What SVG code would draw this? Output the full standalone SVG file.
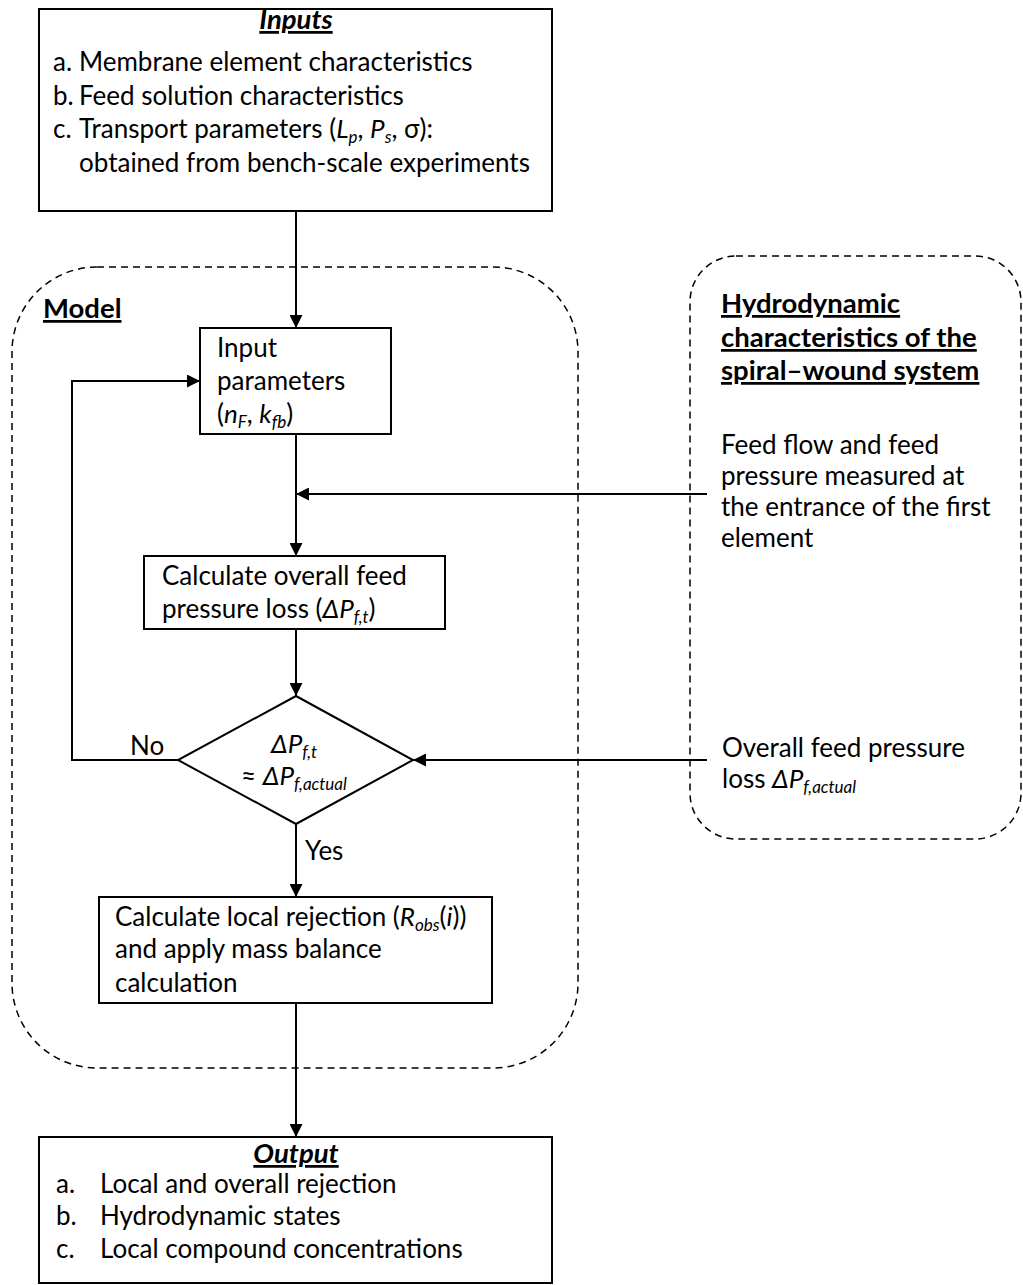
<svg xmlns="http://www.w3.org/2000/svg" width="1023" height="1285" viewBox="0 0 1023 1285">
<style>
text{font-family:Lato,"Liberation Sans",sans-serif;font-size:26px;fill:#000}
.b{font-weight:bold;font-size:27.5px}
.i{font-style:italic}
.u{text-decoration:underline}
.s{font-size:17px;font-style:italic}
.box{fill:#fff;stroke:#000;stroke-width:2}
.dash{fill:none;stroke:#000;stroke-width:1.5;stroke-dasharray:7 5}
.con{fill:none;stroke:#000;stroke-width:2}
</style>
<defs>
<marker id="ah" viewBox="0 0 13 13" refX="13" refY="6.5" markerWidth="13" markerHeight="13" markerUnits="userSpaceOnUse" orient="auto"><path d="M0,0 L13,6.5 L0,13 z" fill="#000"/></marker>
</defs>

<g id="model-group">
<rect class="dash" x="12" y="267" width="566" height="801" rx="85" ry="85"/>
<text class="b u" x="43" y="318">Model</text>
</g>

<g id="hydro-group">
<rect class="dash" x="690" y="256" width="331" height="583" rx="46" ry="46"/>
<text class="b u" x="721" y="313">Hydrodynamic</text>
<text class="b u" x="721" y="347">characteristics of the</text>
<text class="b u" x="721" y="380">spiral–wound system</text>
<text x="721" y="454">Feed flow and feed</text>
<text x="721" y="485">pressure measured at</text>
<text x="721" y="516">the entrance of the first</text>
<text x="721" y="547">element</text>
<text x="722" y="757">Overall feed pressure</text>
<text x="722" y="788">loss <tspan class="i">ΔP</tspan><tspan class="s" dy="5">f,actual</tspan></text>
</g>

<g id="connectors">
<path class="con" d="M296,211 V328" marker-end="url(#ah)"/>
<path class="con" d="M296,434 V556" marker-end="url(#ah)"/>
<path class="con" d="M707,494 H296" marker-end="url(#ah)"/>
<path class="con" d="M296,629 V696" marker-end="url(#ah)"/>
<path class="con" d="M707,760 H413" marker-end="url(#ah)"/>
<path class="con" d="M178,760 H72 V381 H200" marker-end="url(#ah)"/>
<path class="con" d="M296,824 V897" marker-end="url(#ah)"/>
<path class="con" d="M296,1003 V1137" marker-end="url(#ah)"/>
<text x="130" y="755">No</text>
<text x="305" y="860">Yes</text>
</g>

<g id="inputs">
<rect class="box" x="39" y="9" width="513" height="202"/>
<text class="b i u" x="296" y="29" text-anchor="middle">Inputs</text>
<text x="53" y="71">a.</text><text x="79" y="71">Membrane element characteristics</text>
<text x="53" y="105">b.</text><text x="79" y="105">Feed solution characteristics</text>
<text x="53" y="138">c.</text><text x="79" y="138">Transport parameters (<tspan class="i">L</tspan><tspan class="s" dy="5">p</tspan><tspan dy="-5">, </tspan><tspan class="i">P</tspan><tspan class="s" dy="5">s</tspan><tspan dy="-5">, σ):</tspan></text>
<text x="79" y="172">obtained from bench-scale experiments</text>
</g>

<g id="input-parameters">
<rect class="box" x="200" y="328" width="191" height="106"/>
<text x="217" y="357">Input</text>
<text x="217" y="390">parameters</text>
<text x="217" y="423">(<tspan class="i">n</tspan><tspan class="s" dy="5">F</tspan><tspan dy="-5">, </tspan><tspan class="i">k</tspan><tspan class="s" dy="5">fb</tspan><tspan dy="-5">)</tspan></text>
</g>

<g id="calc-pressure">
<rect class="box" x="144" y="556" width="301" height="73"/>
<text x="162" y="585">Calculate overall feed</text>
<text x="162" y="618">pressure loss (<tspan class="i">ΔP</tspan><tspan class="s" dy="5">f,t</tspan><tspan dy="-5">)</tspan></text>
</g>

<g id="decision">
<polygon class="box" points="296,696 413,760 296,824 178,760"/>
<text x="294" y="753" text-anchor="middle"><tspan class="i">ΔP</tspan><tspan class="s" dy="5">f,t</tspan></text>
<text x="294" y="785" text-anchor="middle">≈ <tspan class="i">ΔP</tspan><tspan class="s" dy="5">f,actual</tspan></text>
</g>

<g id="calc-rejection">
<rect class="box" x="99" y="897" width="393" height="106"/>
<text x="115" y="926">Calculate local rejection (<tspan class="i">R</tspan><tspan class="s" dy="5">obs</tspan><tspan dy="-5">(</tspan><tspan class="i">i</tspan><tspan>))</tspan></text>
<text x="115" y="958">and apply mass balance</text>
<text x="115" y="992">calculation</text>
</g>

<g id="output">
<rect class="box" x="39" y="1137" width="513" height="146"/>
<text class="b i u" x="296" y="1163" text-anchor="middle">Output</text>
<text x="56" y="1193">a.</text><text x="100" y="1193">Local and overall rejection</text>
<text x="56" y="1225">b.</text><text x="100" y="1225">Hydrodynamic states</text>
<text x="56" y="1258">c.</text><text x="100" y="1258">Local compound concentrations</text>
</g>
</svg>
